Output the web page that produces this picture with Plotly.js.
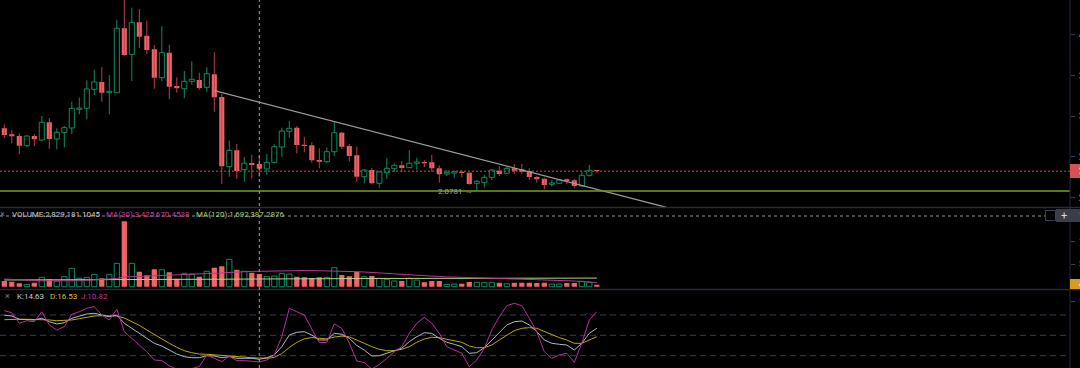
<!DOCTYPE html>
<html><head><meta charset="utf-8">
<script src="https://cdn.plot.ly/plotly-3.0.1.min.js"></script>
<style>html,body{margin:0;padding:0;background:#000;overflow:hidden}#chart{width:1080px;height:368px}</style>
</head><body><div id="chart"></div>
<script>
// ---- price candles ----
const openP  = [2.851,2.777,2.756,2.637,2.756,2.707,2.925,2.720,2.797,2.855,
                3.085,3.097,3.331,3.421,3.289,3.289,4.081,3.761,4.155,3.990,
                3.823,3.474,3.781,3.371,3.338,3.429,3.445,3.355,3.515,3.236,
                2.379,2.581,2.342,2.424,2.412,2.351,2.433,2.621,2.814,2.859,
                2.649,2.642,2.461,2.440,2.563,2.797,2.633,2.519,2.256,2.338,
                2.175,2.305,2.354,2.396,2.367,2.421,2.437,2.433,2.359,2.289,
                2.301,2.317,2.305,2.175,2.182,2.248,2.330,2.298,2.359,2.347,
                2.326,2.252,2.231,2.162,2.175,2.224,2.212,2.141,2.273,2.338];
const highP  = [2.900,2.830,2.790,2.769,2.781,3.002,2.978,2.851,2.879,3.178,
                3.228,3.442,3.572,3.605,3.507,4.183,4.460,4.335,4.319,4.175,
                3.876,4.106,3.876,3.478,3.556,3.675,3.535,3.601,3.786,3.273,
                2.699,2.658,2.498,2.526,2.510,2.535,2.654,2.859,2.941,2.879,
                2.748,2.679,2.605,2.617,2.937,2.809,2.658,2.625,2.351,2.367,
                2.326,2.482,2.421,2.449,2.584,2.490,2.461,2.523,2.396,2.338,
                2.330,2.338,2.308,2.215,2.277,2.351,2.387,2.379,2.412,2.412,
                2.359,2.264,2.244,2.215,2.224,2.236,2.228,2.317,2.400,2.340];
const lowP   = [2.736,2.667,2.531,2.617,2.633,2.691,2.600,2.593,2.617,2.781,
                3.023,2.962,3.261,3.178,3.023,3.285,3.740,3.433,3.835,3.765,
                3.338,3.433,3.212,3.289,3.220,3.384,3.322,3.301,3.055,2.166,
                2.256,2.228,2.194,2.236,2.256,2.277,2.421,2.502,2.736,2.544,
                2.556,2.428,2.359,2.421,2.510,2.597,2.440,2.194,2.175,2.166,
                2.121,2.228,2.317,2.310,2.365,2.338,2.371,2.317,2.182,2.264,
                2.244,2.248,2.157,2.0781,2.121,2.215,2.264,2.289,2.289,2.289,
                2.215,2.182,2.101,2.133,2.172,2.162,2.121,2.133,2.256,2.305];
const closeP = [2.769,2.753,2.637,2.756,2.716,2.925,2.720,2.802,2.859,3.097,
                3.101,3.335,3.421,3.289,3.306,4.081,3.753,4.155,3.978,3.814,
                3.474,3.781,3.363,3.343,3.429,3.454,3.347,3.523,3.232,2.384,
                2.581,2.326,2.421,2.400,2.354,2.433,2.625,2.818,2.851,2.646,
                2.633,2.458,2.440,2.563,2.797,2.625,2.510,2.256,2.338,2.175,
                2.314,2.359,2.396,2.363,2.421,2.437,2.421,2.359,2.285,2.305,
                2.317,2.301,2.166,2.199,2.248,2.338,2.289,2.359,2.330,2.317,
                2.252,2.224,2.154,2.178,2.215,2.203,2.141,2.273,2.335,2.322];
// ---- volume (millions) and its moving averages ----
const volumeM = [1.27,1.11,0.76,0.53,0.89,2.09,1.65,1.27,2.23,4.10,
                 1.87,2.09,2.76,1.87,2.76,5.21,14.57,5.21,3.34,2.54,
                 3.88,3.79,3.21,1.78,2.99,2.83,2.23,3.43,4.23,4.55,
                 6.10,3.79,3.43,3.12,2.83,2.23,2.38,2.99,2.83,2.23,
                 2.09,1.94,2.09,2.09,4.23,2.61,2.32,3.28,2.23,2.38,
                 1.87,1.65,1.27,1.27,1.87,1.49,0.98,1.27,1.27,0.53,
                 0.60,0.67,1.05,0.98,0.98,0.98,0.89,0.67,0.89,0.89,
                 0.89,0.82,0.89,0.60,0.60,0.82,0.82,1.20,0.98,0.45];
const volMA30M = [1.72,1.60,1.50,1.42,1.38,1.33,1.30,1.28,1.27,1.30,
                  1.35,1.42,1.49,1.58,1.68,1.85,2.16,2.22,2.27,2.32,
                  2.38,2.44,2.50,2.55,2.61,2.69,2.77,2.85,2.94,3.06,
                  3.18,3.29,3.39,3.42,3.43,3.48,3.56,3.58,3.60,3.61,
                  3.61,3.60,3.58,3.57,3.56,3.50,3.42,3.35,3.28,3.16,
                  3.05,2.94,2.83,2.72,2.60,2.49,2.38,2.32,2.26,2.19,
                  2.12,2.06,2.00,1.95,1.89,1.85,1.80,1.76,1.72,1.68,
                  1.64,1.61,1.58,1.50,1.42,1.35,1.27,1.17,1.05,0.94];
const volMA120M = [1.50,1.50,1.51,1.51,1.52,1.52,1.53,1.53,1.54,1.54,
                   1.55,1.55,1.56,1.56,1.57,1.57,1.60,1.61,1.61,1.62,
                   1.62,1.63,1.63,1.64,1.64,1.65,1.65,1.66,1.67,1.67,
                   1.68,1.68,1.69,1.69,1.69,1.70,1.71,1.72,1.73,1.74,
                   1.75,1.76,1.77,1.78,1.79,1.80,1.81,1.82,1.83,1.83,
                   1.84,1.84,1.85,1.85,1.86,1.86,1.86,1.87,1.87,1.87,
                   1.87,1.88,1.88,1.88,1.88,1.89,1.89,1.89,1.89,1.90,
                   1.90,1.90,1.90,1.91,1.91,1.91,1.91,1.92,1.92,1.92];
// ---- KDJ ----
const kLine = [79.5,78.5,73.6,73.6,72.6,75.1,70.0,66.7,68.6,75.1,
               78.5,81.4,82.4,79.9,77.4,79.9,67.7,60.3,52.9,45.6,
               38.2,34.2,28.3,22.4,18.5,17.0,17.0,19.9,19.5,17.0,
               18.5,16.1,16.1,16.1,14.63,17.0,21.0,33.2,50.4,54.4,
               55.3,50.4,43.1,43.1,52.9,51.5,45.6,35.0,28.3,19.5,
               19.9,23.5,27.3,30.8,40.6,47.9,53.8,52.9,45.6,39.7,
               36.7,33.2,23.5,24.3,31.7,43.1,55.3,65.2,70.0,71.1,
               65.2,55.3,43.1,38.2,36.7,35.7,28.3,38.2,52.9,60.3];
const dLine = [73.0,73.6,73.6,73.6,73.6,73.6,72.6,71.5,71.5,72.6,
               74.5,77.0,78.5,78.9,78.5,78.5,75.5,70.6,64.7,57.8,
               50.9,44.5,38.2,32.3,27.3,24.3,22.4,22.0,21.0,19.9,
               19.5,18.5,17.6,17.0,16.53,16.1,17.6,23.0,32.1,39.5,
               44.8,46.7,45.5,44.7,47.4,48.8,47.7,43.5,38.2,33.2,
               29.4,27.3,27.3,29.4,33.2,39.7,44.5,47.1,46.5,44.1,
               42.0,39.7,34.2,31.7,31.7,35.7,43.1,50.4,56.8,60.3,
               61.2,60.3,55.3,50.4,46.5,43.1,38.2,38.2,43.1,47.9];
const jLine = [86.3,83.3,67.7,71.5,70.0,84.8,65.2,57.8,62.7,81.0,
               84.8,89.8,92.2,79.9,72.6,88.3,55.3,45.6,35.7,25.8,
               13.6,12.6,5.0,0.0,-2.0,1.0,4.0,21.0,16.1,11.1,
               19.5,12.6,12.6,12.1,10.82,13.6,21.0,47.9,89.8,84.8,
               79.9,59.3,39.4,39.4,67.0,60.3,38.6,12.1,9.9,0.3,
               7.0,16.1,25.8,33.2,52.9,67.7,76.5,67.7,52.9,33.2,
               28.3,23.5,3.7,13.6,30.8,57.8,77.4,93.6,97.2,93.6,
               75.1,55.3,25.8,16.1,21.0,23.5,10.2,38.2,72.6,84.8];
// ---- drawings / labels ----
const trendX = [28, 88.3];
const trendY = [3.314, 1.879];
const supportLevel = 2.080;
const lowLabel = '2.0781';
const crossIdx = 34;
const volHeader = ['VOLUME:2,829,181.1045', 'MA(30):3,425,670.4538', 'MA(120):1,692,387.2876'];
const kdjHeader = ['K:14.63', 'D:16.53', 'J:10.82'];
const priceTicks = [2.0, 2.5, 3.0, 3.5, 4.0];
const priceTickText = ['2.0000', '2.5000', '3.0000', '3.5000', '4.0000'];
const volTicks = [5e6, 10e6];
const volTickText = ['5M', '10M'];

// ---- build ----
const RED = '#ef6466', REDW = '#b8404a', GREEN = '#0e8d62';
const idx = openP.map((_, i) => i);
const up = idx.filter(i => closeP[i] >= openP[i]);
const dn = idx.filter(i => closeP[i] < openP[i]);

function wickSegs(list, full) {
  const x = [], y = [];
  list.forEach(i => {
    const top = Math.max(openP[i], closeP[i]), bot = Math.min(openP[i], closeP[i]);
    if (full) { x.push(i, i, null); y.push(highP[i], lowP[i], null); }
    else {
      x.push(i, i, null, i, i, null);
      y.push(highP[i], top, null, bot, lowP[i], null);
    }
  });
  return {x, y};
}
const wUp = wickSegs(up, false), wDn = wickSegs(dn, true);
const BW = 0.68;

const traces = [
  {type:'scatter', mode:'lines', x:wDn.x, y:wDn.y, line:{color:REDW, width:1}, xaxis:'x', yaxis:'y', hoverinfo:'skip'},
  {type:'scatter', mode:'lines', x:wUp.x, y:wUp.y, line:{color:GREEN, width:1}, xaxis:'x', yaxis:'y', hoverinfo:'skip'},
  {type:'bar', x:dn, base:dn.map(i => closeP[i]), y:dn.map(i => openP[i] - closeP[i]), width:BW,
   marker:{color:RED, line:{width:0}}, xaxis:'x', yaxis:'y', hoverinfo:'skip'},
  {type:'bar', x:up, base:up.map(i => openP[i]), y:up.map(i => Math.max(closeP[i] - openP[i], 0.004)), width:BW,
   marker:{color:'rgba(0,0,0,0)', line:{color:GREEN, width:1}}, xaxis:'x', yaxis:'y', hoverinfo:'skip'},
  {type:'scatter', mode:'lines', x:trendX, y:trendY, line:{color:'#9c9c9c', width:1.2}, xaxis:'x', yaxis:'y', hoverinfo:'skip'},
  // volume
  {type:'bar', x:dn, y:dn.map(i => volumeM[i] * 1e6), width:0.7, marker:{color:RED, line:{width:0}}, xaxis:'x', yaxis:'y2', hoverinfo:'skip'},
  {type:'bar', x:up, y:up.map(i => volumeM[i] * 1e6), width:0.7, marker:{color:'rgba(0,0,0,0)', line:{color:GREEN, width:1}}, xaxis:'x', yaxis:'y2', hoverinfo:'skip'},
  {type:'scatter', mode:'lines', x:idx, y:volMA120M.map(v => v * 1e6), line:{color:'#b4d58a', width:1}, xaxis:'x', yaxis:'y2', hoverinfo:'skip'},
  {type:'scatter', mode:'lines', x:idx, y:volMA30M.map(v => v * 1e6), line:{color:'#b83a8c', width:1}, xaxis:'x', yaxis:'y2', hoverinfo:'skip'},
  // KDJ
  {type:'scatter', mode:'lines', x:idx, y:dLine, line:{color:'#b9a90c', width:1}, xaxis:'x', yaxis:'y3', hoverinfo:'skip'},
  {type:'scatter', mode:'lines', x:idx, y:kLine, line:{color:'#b4b8c0', width:1}, xaxis:'x', yaxis:'y3', hoverinfo:'skip'},
  {type:'scatter', mode:'lines', x:idx, y:jLine, line:{color:'#b8309a', width:1}, xaxis:'x', yaxis:'y3', hoverinfo:'skip'}
];

const W = 1070, H = 368;
const PX = p => p / W, PY = p => 1 - p / H;
const FONT = 'Roboto, "Noto Sans", sans-serif';
const AX = '#262a38';

const shapes = [
  ...[20, 50, 80].map(v => ({type:'line', xref:'paper', yref:'y3', x0:0, x1:1, y0:v, y1:v, line:{color:'#383c55', width:1, dash:'6px,4px'}, layer:'below'})),
  {type:'line', xref:'paper', yref:'y', x0:0, x1:1, y0:closeP[closeP.length-1], y1:closeP[closeP.length-1], line:{color:'#8c3333', width:1.5, dash:'2px,2px'}, layer:'below'},
  {type:'line', xref:'paper', yref:'y', x0:0, x1:1, y0:supportLevel, y1:supportLevel, line:{color:'#74a219', width:1.6}},
  {type:'line', xref:'paper', yref:'paper', x0:0, x1:PX(1082), y0:PY(207.5), y1:PY(207.5), line:{color:AX, width:1.5}},
  {type:'line', xref:'paper', yref:'paper', x0:0, x1:PX(1082), y0:PY(289.5), y1:PY(289.5), line:{color:AX, width:1.5}},
  {type:'line', xref:'paper', yref:'paper', x0:1, x1:1, y0:0, y1:1, line:{color:AX, width:1}},
  {type:'line', xref:'x', yref:'paper', x0:crossIdx, x1:crossIdx, y0:0, y1:1, line:{color:'#9aa0a8', width:1, dash:'dot'}},
  {type:'line', xref:'paper', yref:'paper', x0:0, x1:PX(1045), y0:PY(216), y1:PY(216), line:{color:'#8e939c', width:1, dash:'dot'}},
  {type:'rect', xref:'paper', yref:'paper', x0:PX(1070), x1:PX(1082), y0:PY(178), y1:PY(164), fillcolor:'#d65252', line:{width:0}},
  {type:'rect', xref:'paper', yref:'paper', x0:PX(1070), x1:PX(1082), y0:PY(289), y1:PY(279), fillcolor:'#dc9a1e', line:{width:0}},
  {type:'rect', xref:'paper', yref:'paper', x0:PX(1056), x1:PX(1082), y0:PY(222), y1:PY(209), fillcolor:'#3a3e4b', line:{width:0}},
  {type:'rect', xref:'paper', yref:'paper', x0:PX(1045.5), x1:PX(1055.5), y0:PY(220.5), y1:PY(210.5), fillcolor:'rgba(0,0,0,0)', line:{color:'#3d4256', width:1}}
];

function ann(text, px, py, color, anchor, size) {
  return {xref:'paper', yref:'paper', x:PX(px), y:PY(py), text:text, showarrow:false,
          xanchor:anchor || 'left', yanchor:'middle', borderpad:0,
          font:{family:FONT, size:size || 8, color:color}};
}
const annotations = [
  ann('×', 2, 214, '#7d828c', 'center', 9),
  ann(volHeader[0], 11, 214, '#c9ccd2'),
  ann(volHeader[1], 104.5, 214, '#c0409a'),
  ann(volHeader[2], 194.5, 214, '#a9cf7c'),
  ann('×', 7, 296, '#7d828c', 'center', 9),
  ann(kdjHeader[0], 16, 296, '#c6cad2'),
  ann(kdjHeader[1], 48.5, 296, '#d3c22a'),
  ann(kdjHeader[2], 79.5, 296, '#c2369d'),
  {xref:'x', yref:'y', x:63, y:lowP[63], text:lowLabel + ' →', showarrow:false, xanchor:'right', yanchor:'middle',
   xshift:-3, borderpad:0, font:{family:FONT, size:8, color:'#9da2ab'}},
  ann('2.3220', 1077.5, 171, '#ffffff', 'left', 9),
  ann('451.2K', 1077.5, 284, '#ffffff', 'left', 9),
  ann('+', 1063.5, 215.5, '#d8dbe0', 'center', 11),
  ann('15.83M', 1077.5, 215.5, '#d8dbe0', 'left', 9)
];

const yCommon = {side:'right', anchor:'x', showgrid:false, zeroline:false, showline:false,
  ticks:'outside', ticklen:4, tickwidth:1, tickcolor:'#3c4152', ticklabelstandoff:2,
  tickfont:{family:FONT, size:9, color:'#8e929b'}, fixedrange:true};

const layout = {
  width:1080, height:368,
  margin:{l:0, r:10, t:0, b:0, pad:0},
  paper_bgcolor:'#000', plot_bgcolor:'#000',
  showlegend:false, barmode:'overlay', hovermode:false,
  xaxis:{range:[-0.573, 142.09], visible:false, fixedrange:true},
  yaxis:Object.assign({}, yCommon, {domain:[1-207.5/368, 1], range:[1.877, 4.4293], tickvals:priceTicks, ticktext:priceTickText}),
  yaxis2:Object.assign({}, yCommon, {domain:[1-289.5/368, 1-207.5/368], range:[-0.62e6, 17.65e6], tickvals:volTicks, ticktext:volTickText}),
  yaxis3:Object.assign({}, yCommon, {domain:[0, 1-289.5/368], range:[1.8, 117.5], tickvals:[100], ticktext:['100.00']}),
  shapes:shapes, annotations:annotations
};
Plotly.newPlot('chart', traces, layout, {staticPlot:true, displayModeBar:false});
</script></body></html>
